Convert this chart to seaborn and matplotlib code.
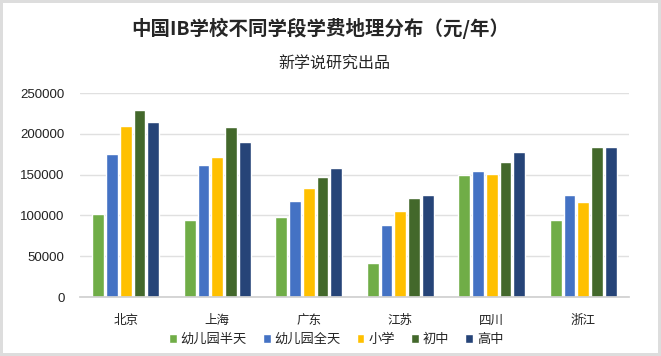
import matplotlib
matplotlib.use("Agg")
import matplotlib.pyplot as plt
import seaborn as sns
import pandas as pd

regions = ["北京", "上海", "广东", "江苏", "四川", "浙江"]
stages = ["幼儿园半天", "幼儿园全天", "小学", "初中", "高中"]
kg_half = [102000, 94000, 98000, 42000, 149000, 94000]
kg_full = [175000, 162000, 118000, 88000, 155000, 125000]
primary = [210000, 172000, 134000, 106000, 151000, 117000]
middle = [229000, 208000, 147000, 121000, 165000, 184000]
high = [215000, 190000, 158000, 125000, 178000, 184000]
yticks = [0, 50000, 100000, 150000, 200000, 250000]
colors = ["#70AD47", "#4472C4", "#FFC000", "#43682B", "#264478"]

series = [kg_half, kg_full, primary, middle, high]
rows = []
for st, vals in zip(stages, series):
    for r, v in zip(regions, vals):
        rows.append({"地区": r, "学段": st, "学费": v})
df = pd.DataFrame(rows)

sns.set_theme(style="white")
fam = ["Liberation Sans", "Noto Sans CJK SC", "DejaVu Sans"]
plt.rcParams["font.family"] = fam

fig = plt.figure(figsize=(6.61, 3.56), dpi=100)
fig.patch.set_facecolor("white")
fig.patch.set_edgecolor("#DDDDDD")
fig.patch.set_linewidth(3)
ax = fig.add_axes([80/661, 1-297/356, (629-80)/661, (297-93)/356])

sns.barplot(data=df, x="地区", y="学费", hue="学段", palette=colors,
            order=regions, hue_order=stages, width=0.75, gap=0.15,
            ax=ax, legend=True, saturation=1)

ax.set_ylim(0, 250000)
ax.set_yticks(yticks)
ax.set_yticklabels([str(t) for t in yticks], fontsize=9.5, color="#222222")
ax.set_xlabel("")
ax.set_ylabel("")
ax.tick_params(axis="x", labelsize=9, colors="#222222", length=0, pad=13)
ax.tick_params(axis="y", length=0, pad=11)
ax.yaxis.grid(True, color="#E0E0E0", linewidth=1)
ax.set_axisbelow(True)
for s in ["top", "right", "left"]:
    ax.spines[s].set_visible(False)
ax.spines["bottom"].set_color("#D0D0D0")
ax.set_xlim(-0.5, 5.5)

handles, labels = ax.get_legend_handles_labels()
ax.legend_.remove()
fig.legend(handles, labels, loc="center", bbox_to_anchor=(336/661, 1-340/356),
           ncol=5, frameon=False, fontsize=9.5, handlelength=0.6, handleheight=0.6,
           handletextpad=0.3, columnspacing=1.2)

fig.text(320/661, 1-28/356, "中国IB学校不同学段学费地理分布（元/年）", ha="center", va="center",
         fontsize=14, fontweight="bold", family=["Noto Sans CJK SC", "DejaVu Sans"])
fig.text(334/661, 1-64/356, "新学说研究出品", ha="center", va="center",
         fontsize=11.5, family=["Noto Sans CJK SC", "DejaVu Sans"])

fig.savefig("out.png", dpi=100)
